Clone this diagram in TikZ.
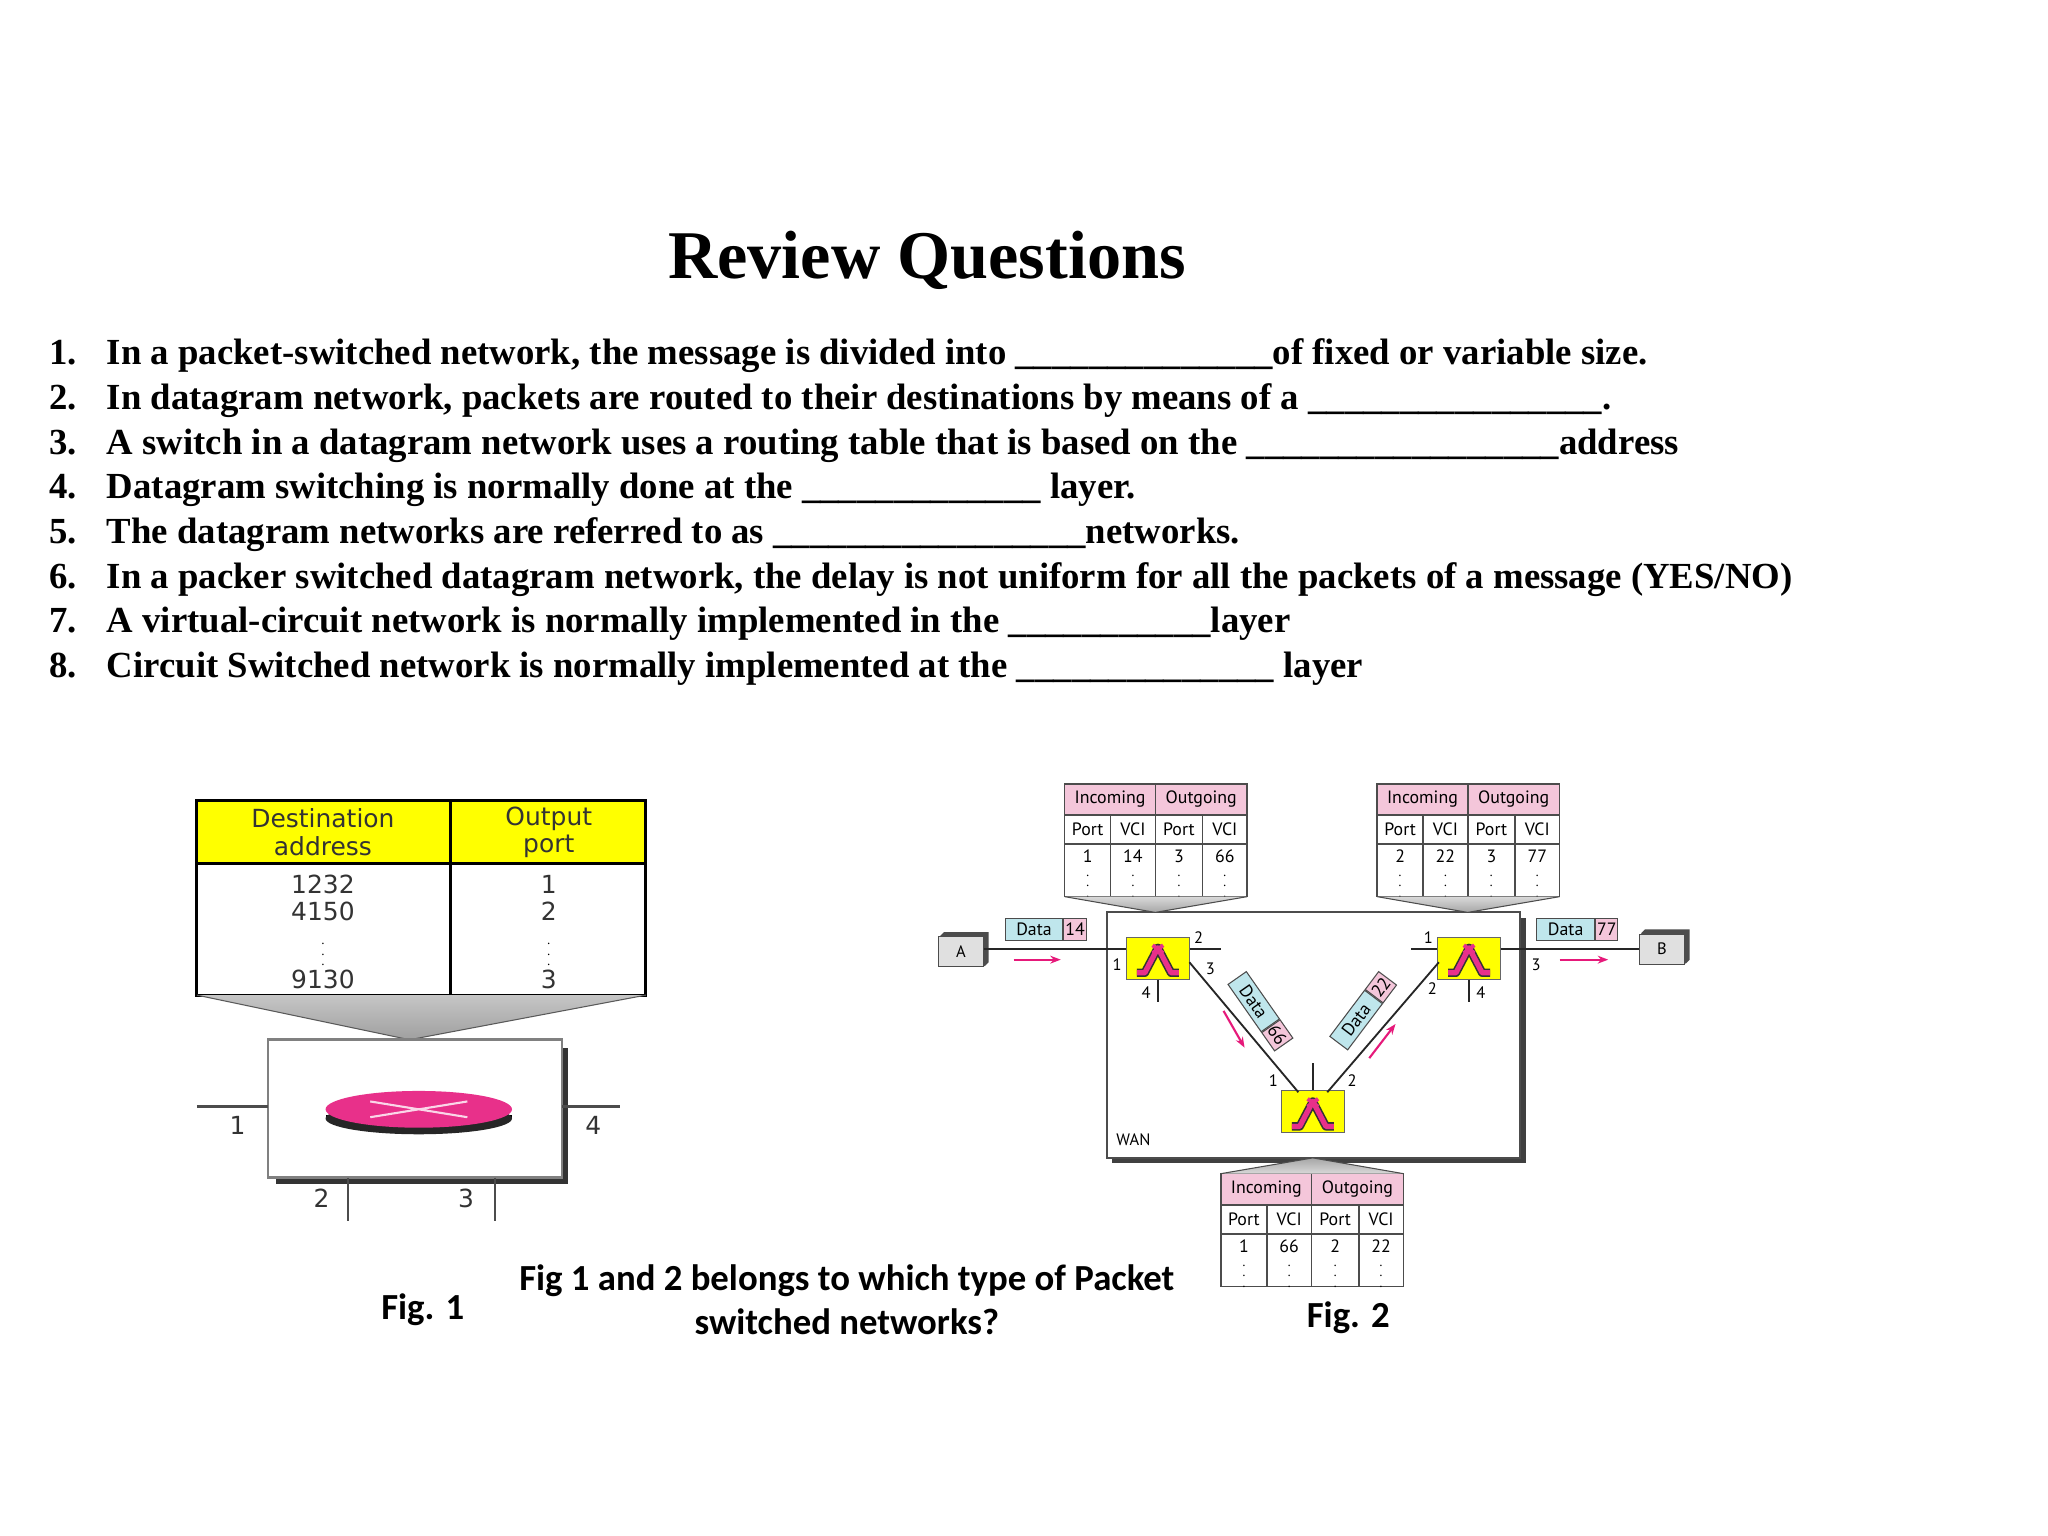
\documentclass[tikz,border=0pt]{standalone}
\usepackage{fontspec}
\usetikzlibrary{arrows.meta}
\setmainfont{Liberation Serif}
\newfontfamily\calfont{Carlito}
\newfontfamily\fsans{DejaVu Sans}
\newfontfamily\psans{PT Sans}
\definecolor{yel}{HTML}{FFFF00}
\definecolor{pnk}{HTML}{F4C6DA}
\definecolor{blu}{HTML}{BFE6EC}
\definecolor{mag}{HTML}{E8308A}
\definecolor{arr}{HTML}{E6197A}
\tikzset{
 q/.style={anchor=base west,inner sep=0pt,font=\fontsize{14}{16}\selectfont\bfseries},
 qn/.style={anchor=base west,inner sep=0pt,font=\fontsize{14}{16}\selectfont\bfseries},
 tx/.style={inner sep=0pt,font=\psans\fontsize{6.8}{8}\selectfont},
 pl/.style={inner sep=0pt,font=\psans\fontsize{6.3}{7}\selectfont},
 sw/.style={draw=black!60,fill=yel},
 pa/.style={draw=arr,line width=0.8pt,-{Stealth[length=4pt]}},
 f1/.style={inner sep=0pt,font=\fsans\fontsize{9.5}{9.5}\selectfont\color{black!80}}
}
\newcommand\vctab[7]{%
 \begin{scope}[shift={(#1,#2)}]
 \fill[pnk] (0,0) rectangle (139,24);
 \draw[black!70,line width=0.6pt] (0,0) rectangle (139,86) (0,24)--(139,24) (0,46)--(139,46)
   (69,0)--(69,86) (35,24)--(35,86) (105,24)--(105,86);
 \node[tx] at (34.5,12) {Incoming}; \node[tx] at (104,12) {Outgoing};
 \node[tx] at (17.5,35) {Port}; \node[tx] at (52,35) {VCI};
 \node[tx] at (87,35) {Port}; \node[tx] at (122,35) {VCI};
 \node[tx] at (17.5,55) {#3}; \node[tx] at (52,55) {#4};
 \node[tx] at (87,55) {#5}; \node[tx] at (122,55) {#6};
 \foreach \cx in {17.5,52,87,122}{\node[tx,font=\tiny] at (\cx,72) {$\vdots$};}
 \end{scope}}
\newcommand\swicon[1]{%
 \begin{scope}[shift={(#1)}]
 \draw[black!80,line width=3.2pt,line join=round] (-16,10)--(-10,10)--(0,-9)--(10,10)--(16,10);
 \draw[mag,line width=2pt,line join=round] (-16,10)--(-10,10)--(0,-9)--(10,10)--(16,10);
 \draw[mag,line width=1.5pt] (-4,-11)--(4,-5) (4,-11)--(-4,-5);
 \end{scope}}
\begin{document}
\begin{tikzpicture}[x=0.5pt,y=-0.5pt]
\useasboundingbox (0,0) rectangle (1560,1170);
\fill[white] (0,0) rectangle (1560,1170);
% title
\node[font=\fontsize{26}{28}\selectfont\bfseries] (title) at (706,198) {Review Questions};
% questions
\foreach \n/\yy/\t in {
 1/273/{In a packet-switched network, the message is divided into \_\_\_\_\_\_\_\_\_\_\_\_\_\_of fixed or variable size.},
 2/307/{In datagram network, packets are routed to their destinations by means of a \_\_\_\_\_\_\_\_\_\_\_\_\_\_\_\_.},
 3/341/{A switch in a datagram network uses a routing table that is based on the \_\_\_\_\_\_\_\_\_\_\_\_\_\_\_\_\_address},
 4/375/{Datagram switching is normally done at the \_\_\_\_\_\_\_\_\_\_\_\_\_ layer.},
 5/409/{The datagram networks are referred to as \_\_\_\_\_\_\_\_\_\_\_\_\_\_\_\_\_networks.},
 6/443/{In a packer switched datagram network, the delay is not uniform for all the packets of a message (YES/NO)},
 7/477/{A virtual-circuit network is normally implemented in the \_\_\_\_\_\_\_\_\_\_\_layer},
 8/511/{Circuit Switched network is normally implemented at the \_\_\_\_\_\_\_\_\_\_\_\_\_\_ layer}}{
 \node[qn] (n\n) at (37,\yy+5) {\n.};
 \node[q] (q\n) at (81,\yy+5) {\t};
}
% ---------- Fig 1
\fill[yel] (150,610) rectangle (492,658);
\draw[line width=1.2pt] (150,610) rectangle (492,758) (150,658)--(492,658) (343,610)--(343,758);
\node[f1,align=center] (h1) at (246,634) {Destination\\[1pt]address};
\node[f1,align=center] (h2) at (418,634) {Output\\[1pt]port};
\node[f1] at (246,674) {1232}; \node[f1] at (246,694) {4150};
\node[f1,font=\tiny] at (246,721) {$\vdots$}; \node[f1] at (246,746) {9130};
\node[f1] at (418,674) {1}; \node[f1] at (418,694) {2};
\node[f1,font=\tiny] at (418,721) {$\vdots$}; \node[f1] at (418,746) {3};
\shade[top color=gray!45,bottom color=gray!75] (150,758)--(492,758)--(312,792)--cycle;
\draw[gray!70!black] (150,758)--(312,792)--(492,758);
\fill[black!80] (210,798) rectangle (433,902);
\draw[black!50,fill=white,line width=1pt] (204,792) rectangle (428,897);
\fill[black] (248,849) rectangle (390,852);
\fill[black!85] (319,852) ellipse (71 and 12);
\fill[mag] (319,845) ellipse (71 and 14);
\draw[white!80!mag,line width=0.8pt] (282,839)--(356,851) (282,851)--(356,839);
\draw[black!70,line width=1pt] (150,843)--(204,843) (428,843)--(472,843) (265,897)--(265,930) (377,897)--(377,930);
\node[f1] at (181,857) {1}; \node[f1] at (452,857) {4};
\node[f1] at (245,913) {2}; \node[f1] at (355,913) {3};
\node[font=\calfont\fontsize{14}{14}\selectfont\bfseries] (fig1) at (322,998) {Fig. 1};
\node[font=\calfont\fontsize{14}{17}\selectfont\bfseries,align=center] (ques) at (645,990) {Fig 1 and 2 belongs to which type of Packet\\switched networks?};
% ---------- Fig 2
\fill[black!75] (847,699) rectangle (1162,886);
\draw[black!70,fill=white,line width=0.8pt] (843,695) rectangle (1158,882);
\node[pl,anchor=west] at (850,868) {WAN};
\vctab{811}{597}{1}{14}{3}{66}{}
\vctab{1049}{597}{2}{22}{3}{77}{}
\vctab{930}{894}{1}{66}{2}{22}{}
\shade[top color=gray!30,bottom color=gray!70] (811,683)--(950,683)--(880,695)--cycle;
\draw[black!70] (811,683)--(880,695)--(950,683);
\shade[top color=gray!30,bottom color=gray!70] (1049,683)--(1188,683)--(1118,695)--cycle;
\draw[black!70] (1049,683)--(1118,695)--(1188,683);
\shade[top color=gray!70,bottom color=gray!30] (1000,882)--(930,894)--(1069,894)--cycle;
\draw[black!70] (930,894)--(1000,882)--(1069,894);
% hosts
\fill[black!70] (716,713)--(719,710)--(753,710)--(753,733)--(750,736)--cycle;
\node[draw=black!70,fill=black!12,inner sep=0pt,pl,minimum width=17pt,minimum height=11.5pt] (A) at (732,725) {A};
\fill[black!70] (1250,711)--(1253,708)--(1287,708)--(1287,731)--(1284,734)--cycle;
\node[draw=black!70,fill=black!12,inner sep=0pt,pl,minimum width=17pt,minimum height=11.5pt] (B) at (1266,723) {B};
% switches
\node[sw,minimum width=24pt,minimum height=16pt,inner sep=0pt] (s1) at (882,730) {};
\node[sw,minimum width=24pt,minimum height=16pt,inner sep=0pt] (s2) at (1119,730) {};
\node[sw,minimum width=24pt,minimum height=16pt,inner sep=0pt] (s3) at (1000,847) {};
\swicon{882,731}\swicon{1119,731}\swicon{1000,848}
\coordinate (p2) at (930,723); \coordinate (p4) at (882,763);
\coordinate (q1) at (1075,723); \coordinate (q4) at (1119,763);
\coordinate (r0) at (1000,810);
\draw[black!85,line width=0.7pt] (A.east|-0,723)--(s1.west|-0,723) (s1.east|-0,723)--(p2)
 (s1.south)--(p4) (s2.west|-0,723)--(q1) (s2.east|-0,723)--(B.west|-0,723) (s2.south)--(q4)
 (s3.north)--(r0);
\draw[black!85,line width=0.7pt] (906,733)--(989,832) (1096,733)--(1011,832);
\node[pl] at (851,735) {1}; \node[pl] at (913,714) {2}; \node[pl] at (922,738) {3}; \node[pl] at (873,756) {4};
\node[pl] at (1088,714) {1}; \node[pl] at (1091,753) {2}; \node[pl] at (1128,756) {4}; \node[pl] at (1170,735) {3};
\node[pl] at (970,823) {1}; \node[pl] at (1030,823) {2};
% data labels
\begin{scope}[tx]
\node[draw=black!70,fill=blu,minimum width=22pt,minimum height=8.5pt,anchor=east] (d14) at (810,708) {Data};
\node[draw=black!70,fill=pnk,minimum width=8.5pt,minimum height=8.5pt,anchor=west] (n14) at (d14.east) {14};
\node[draw=black!70,fill=blu,minimum width=22pt,minimum height=8.5pt,anchor=east] (d77) at (1215,708) {Data};
\node[draw=black!70,fill=pnk,minimum width=8.5pt,minimum height=8.5pt,anchor=west] (n77) at (d77.east) {77};
\node[draw=black!70,fill=blu,minimum width=22pt,minimum height=8.5pt,rotate=-55] (d66) at (955,763) {Data};
\node[draw=black!70,fill=pnk,minimum width=8.5pt,minimum height=8.5pt,rotate=-55,anchor=west] (n66) at (d66.east) {66};
\node[draw=black!70,fill=blu,minimum width=22pt,minimum height=8.5pt,rotate=53] (d22) at (1033,777) {Data};
\node[draw=black!70,fill=pnk,minimum width=8.5pt,minimum height=8.5pt,rotate=53,anchor=west] (n22) at (d22.east) {22};
\end{scope}
\coordinate (a1) at (772,731); \coordinate (a2) at (808,731);
\coordinate (b1) at (1188,731); \coordinate (b2) at (1225,731);
\coordinate (c1) at (932,770); \coordinate (c2) at (948,798);
\coordinate (e1) at (1043,806); \coordinate (e2) at (1063,780);
\draw[pa] (a1)--(a2); \draw[pa] (b1)--(b2); \draw[pa] (c1)--(c2); \draw[pa] (e1)--(e2);
\node[font=\calfont\fontsize{14}{14}\selectfont\bfseries] (fig2) at (1027,1004) {Fig. 2};
\end{tikzpicture}
\end{document}
